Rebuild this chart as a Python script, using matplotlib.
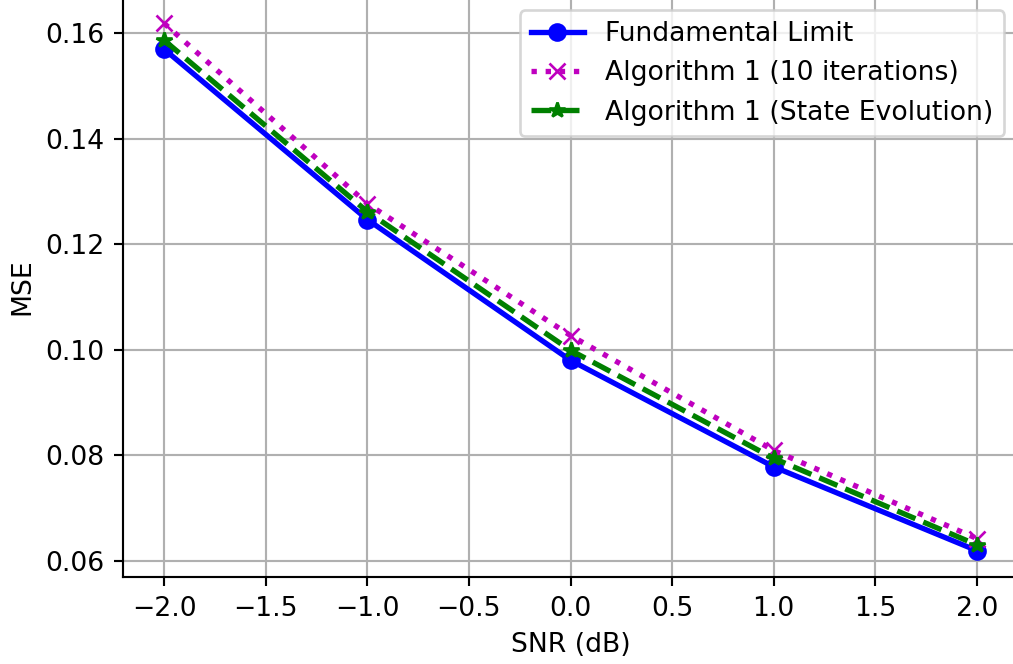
import matplotlib
matplotlib.use("Agg")
import matplotlib.pyplot as plt
import numpy as np

# SNR points (dB) and the three MSE curves
snr_db = [-2, -1, 0, 1, 2]
mse_limit = [0.1570, 0.1247, 0.0980, 0.0778, 0.0619]
mse_alg_iter = [0.1619, 0.1277, 0.1027, 0.0809, 0.0642]
mse_alg_se = [0.1587, 0.1262, 0.0999, 0.0794, 0.0630]

DPI = 192
fig = plt.figure(figsize=(1013 / DPI, 664 / DPI), dpi=DPI)
# axes run slightly past the top/right edge, like a tight crop of the original
ax = fig.add_axes([0.1219, 0.131, 0.8826, 0.8735])

ax.plot(snr_db, mse_limit, 'bo-', lw=2, label='Fundamental Limit')
ax.plot(snr_db, mse_alg_iter, 'mx:', lw=2, label='Algorithm 1 (10 iterations)')
ax.plot(snr_db, mse_alg_se, 'g*--', lw=2, label='Algorithm 1 (State Evolution)')

ax.set_xticks(np.arange(-2, 2.01, 0.5))
ax.set_yticks([0.06, 0.08, 0.10, 0.12, 0.14, 0.16])
ax.set_xlabel('SNR (dB)')
ax.set_ylabel('MSE')
ax.grid(True)
ax.spines['top'].set_visible(False)
ax.spines['right'].set_visible(False)
ax.legend(loc='upper right')

fig.savefig('out.png', dpi=DPI)
